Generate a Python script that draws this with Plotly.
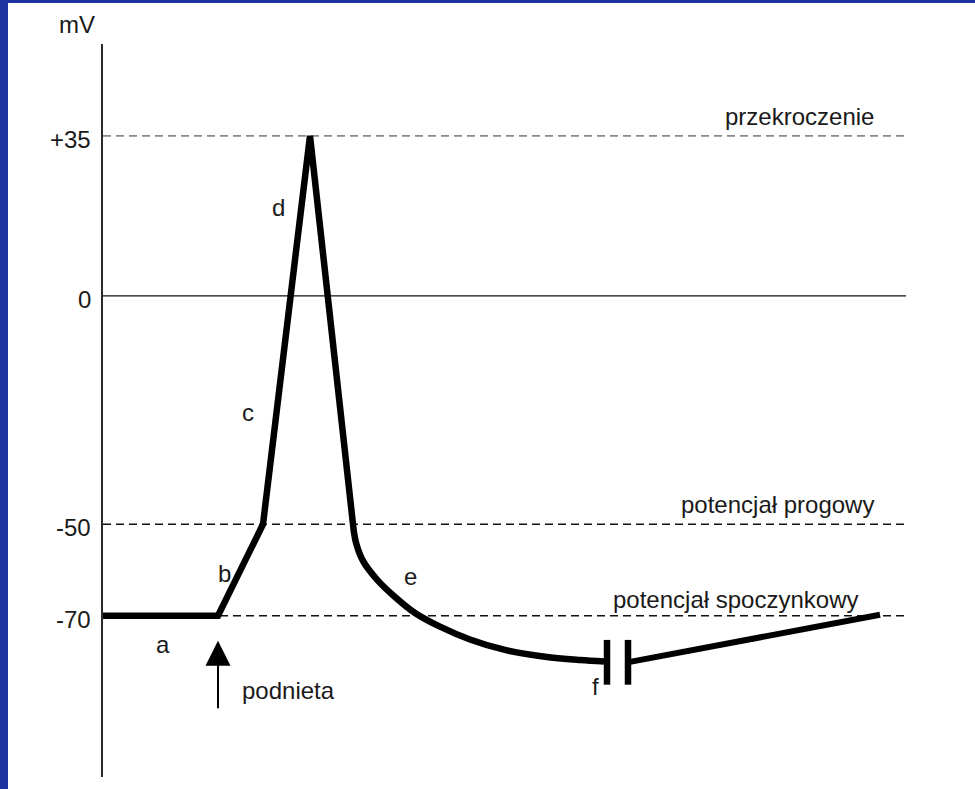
import plotly.graph_objects as go

# ---- data (time in arbitrary units, membrane potential in mV) ----
t_spike = [0.00, 1.15, 1.60, 2.07, 2.50]
v_spike = [-70, -70, -50, 35, -50]
t_repol = [2.50, 2.53, 2.60, 2.74, 2.92, 3.12, 3.37, 3.67, 4.02, 4.42, 4.77, 5.01]
v_repol = [-50, -54.0, -58.0, -62.1, -65.9, -69.4, -72.4, -75.2, -77.5, -79.0, -79.7, -80.0]
t_after = [5.27, 7.77]
v_after = [-80.1, -69.8]
break_t = [5.04, 5.25]
break_v = [-75.3, -85.1]

level_vals = [35, 0, -50, -70]
level_ticks = ["+35", "0", "-50", "-70"]
level_names = ["przekroczenie", None, "potencjał progowy", "potencjał spoczynkowy"]
level_name_y = [39.2, None, -45.7, -66.4]
level_name_x = [7.73, None, 7.73, 7.57]

phase_labels = ["a", "b", "c", "d", "e", "f"]
phase_t = [0.60, 1.21, 1.45, 1.75, 3.07, 4.92]
phase_v = [-76.4, -60.8, -25.6, 19.3, -61.5, -85.6]

stim_t = 1.15
stim_tip = -75.5
stim_base = -90.6

X_MAX = 8.03
Y_RANGE = [-105.3, 55.1]
FONT = "Liberation Sans, Arial, sans-serif"
TXT = "#1a1a1a"
PLOT_W = 803.0  # pixel width of plotting area (used to place side labels)

fig = go.Figure()

# level lines
styles = {35: ("#8a8a8a", "8px,5px", 1.6), 0: ("#111111", "solid", 1.3),
          -50: ("#111111", "8px,5px", 1.6), -70: ("#111111", "8px,5px", 1.6)}
for v in level_vals:
    c, d, w = styles[v]
    fig.add_trace(go.Scatter(x=[0, X_MAX], y=[v, v], mode="lines",
                             line=dict(color=c, dash=d, width=w),
                             hoverinfo="skip", showlegend=False))

# action potential: spike (straight segments) + smooth repolarisation
fig.add_trace(go.Scatter(x=t_spike, y=v_spike, mode="lines",
                         line=dict(color="black", width=6.5),
                         showlegend=False))
fig.add_trace(go.Scatter(x=t_repol, y=v_repol, mode="lines",
                         line=dict(color="black", width=6.5, shape="spline", smoothing=1.0),
                         showlegend=False))
fig.add_trace(go.Scatter(x=t_after, y=v_after, mode="lines",
                         line=dict(color="black", width=6),
                         showlegend=False))
# break bars
for bt in break_t:
    fig.add_trace(go.Scatter(x=[bt, bt], y=break_v, mode="lines",
                             line=dict(color="black", width=6.5),
                             showlegend=False))

ann = []
# tick labels (paper x so they are not hidden outside the axis range)
for v, lab in zip(level_vals, level_ticks):
    ann.append(dict(x=-10 / PLOT_W, y=v - 0.8, xref="paper", yref="y", text=lab, showarrow=False,
                    xanchor="right", yanchor="middle",
                    font=dict(family=FONT, size=24, color=TXT)))
ann.append(dict(x=-26 / PLOT_W, y=1.0 + (44 - 25) / 733.0, xref="paper", yref="paper",
                text="mV", showarrow=False, xanchor="center", yanchor="middle",
                font=dict(family=FONT, size=24, color=TXT)))
# level names
for n, nx, ny in zip(level_names, level_name_x, level_name_y):
    if n is None:
        continue
    ann.append(dict(x=nx, y=ny, xref="x", yref="y", text=n, showarrow=False,
                    xanchor="right", yanchor="middle",
                    font=dict(family=FONT, size=24, color=TXT)))
# phase letters
for lab, pt, pv in zip(phase_labels, phase_t, phase_v):
    ann.append(dict(x=pt, y=pv, xref="x", yref="y", text=lab, showarrow=False,
                    xanchor="center", yanchor="middle",
                    font=dict(family=FONT, size=24, color=TXT)))
# stimulus arrow
ann.append(dict(x=stim_t, y=stim_tip, ax=stim_t, ay=stim_base, xref="x", yref="y",
                axref="x", ayref="y", text="", showarrow=True,
                arrowhead=2, arrowwidth=2, arrowsize=2.5, arrowcolor="black"))
ann.append(dict(x=1.37, y=-86.4, xref="x", yref="y", text="podnieta", showarrow=False,
                xanchor="left", yanchor="middle",
                font=dict(family=FONT, size=24, color=TXT)))

BLUE = "#1f33a3"
shapes = [
    dict(type="rect", xref="paper", yref="paper", x0=-0.135, x1=-95 / PLOT_W, y0=-0.03, y1=1.07,
         fillcolor=BLUE, line=dict(width=0), layer="above"),
    dict(type="rect", xref="paper", yref="paper", x0=-0.135, x1=1.1, y0=1.0 + 41 / 733.0, y1=1.07,
         fillcolor=BLUE, line=dict(width=0), layer="above"),
]

fig.update_layout(
    width=975, height=789,
    margin=dict(l=103, r=69, t=44, b=12),
    paper_bgcolor="white", plot_bgcolor="white",
    annotations=ann, shapes=shapes,
    xaxis=dict(range=[0, X_MAX], visible=False, showgrid=False, zeroline=False),
    yaxis=dict(range=Y_RANGE, showgrid=False, zeroline=False, showticklabels=False,
               ticks="", showline=True, linecolor="#2a2a2a", linewidth=1.6,
               mirror=False),
    showlegend=False,
)

fig.write_html("out.html", config={"displayModeBar": False},
               post_script="document.body.style.margin='0';document.body.style.overflow='hidden';")
